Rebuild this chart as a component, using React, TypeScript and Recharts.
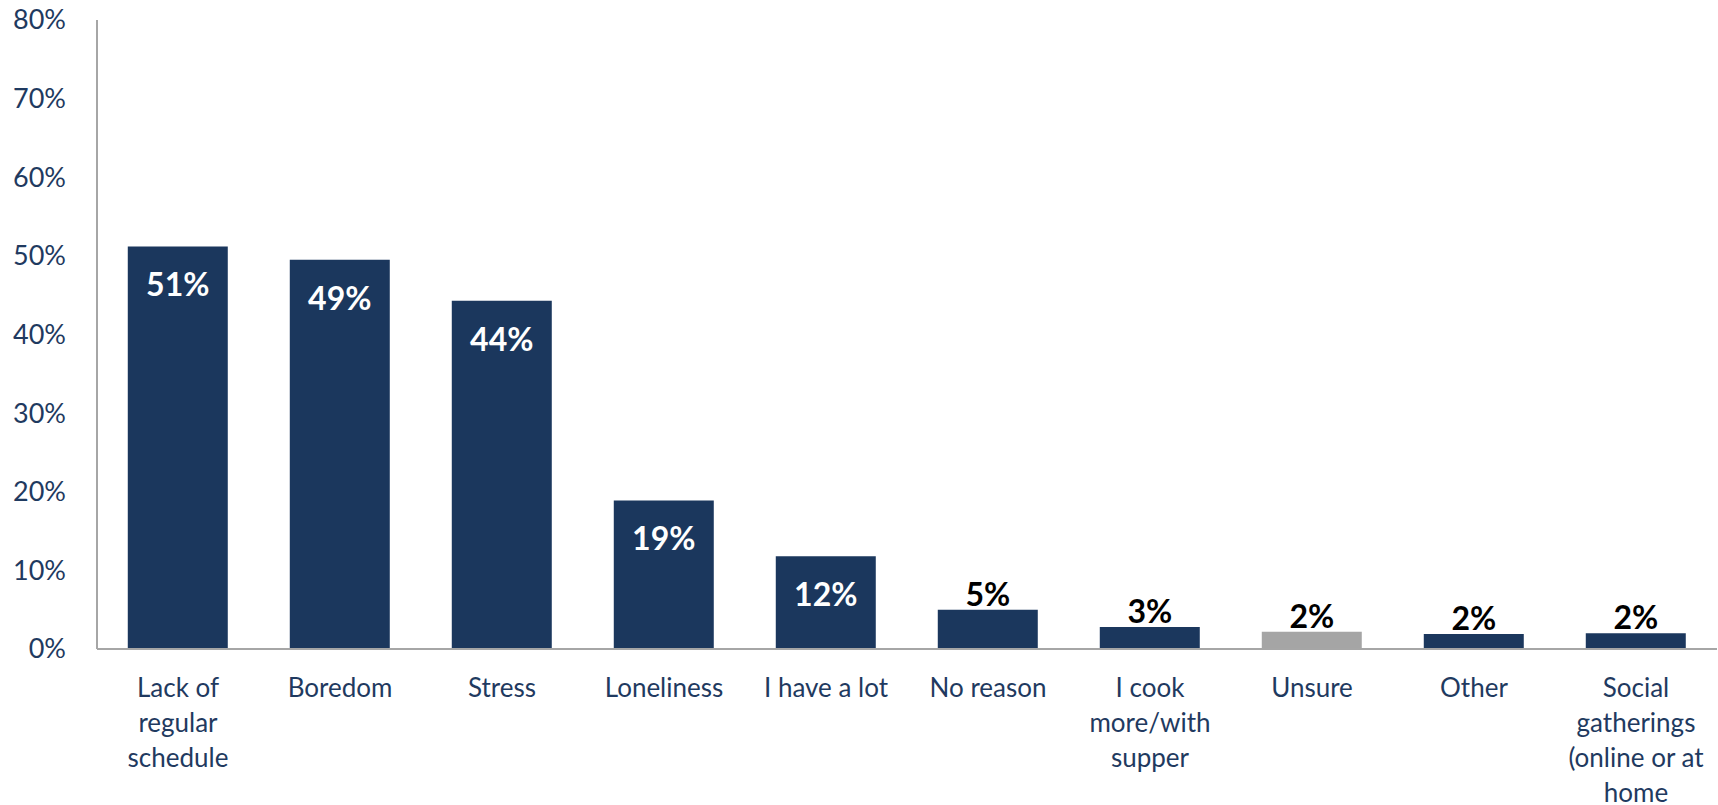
import { BarChart, Bar, XAxis, YAxis, Cell, LabelList } from 'recharts'

const categories = [
    'Lack of\nregular\nschedule',
    'Boredom',
    'Stress',
    'Loneliness',
    'I have a lot',
    'No reason',
    'I cook\nmore/with\nsupper',
    'Unsure',
    'Other',
    'Social\ngatherings\n(online or at\nhome',
]
const shares = [51.2, 49.5, 44.3, 18.9, 11.8, 5.0, 2.8, 2.2, 1.9, 2.0]
const shareLabels = ['51%', '49%', '44%', '19%', '12%', '5%', '3%', '2%', '2%', '2%']
const yTicks = [0, 10, 20, 30, 40, 50, 60, 70, 80]

const NAVY = '#1b375d'
const GREY = '#a5a5a5'
const TEXT = '#1f3a60'
const FONT = 'Lato, "Open Sans", sans-serif'

const data = categories.map((name, i) => ({ name, share: shares[i], label: shareLabels[i] }))

function XTick({ x, y, payload }: any) {
    const lines = String(payload.value).split('\n')
    return (
        <text x={x} y={y} textAnchor="middle" fill={TEXT} fontSize={26} fontFamily={FONT}>
            {lines.map((l, i) => (
                <tspan key={i} x={x} y={y + 40 + i * 35}>{l}</tspan>
            ))}
        </text>
    )
}

function YTick({ y, payload }: any) {
    return (
        <text x={66} y={y} dy="0.35em" textAnchor="end" fill={TEXT} fontSize={27} fontFamily={FONT}>
            {payload.value}%
        </text>
    )
}

function BarLabel({ x, y, width, index }: any) {
    const big = shares[index] > 10
    return (
        <text
            x={x + width / 2}
            y={big ? y + 50 : y - 4}
            textAnchor="middle"
            fill={big ? '#ffffff' : '#000000'}
            fontSize={32}
            fontWeight={700}
            fontFamily={FONT}
        >
            {shareLabels[index]}
        </text>
    )
}

export default function App() {
    return (
        <div style={{ position: 'absolute', left: 0, top: 0, background: '#fff' }}>
            <BarChart
                width={1718}
                height={805}
                data={data}
                margin={{ top: 20, right: 1, left: 0, bottom: 0 }}
                barCategoryGap="19%"
            >
                <XAxis
                    dataKey="name"
                    height={156}
                    interval={0}
                    tickLine={false}
                    axisLine={{ stroke: '#a6a6a6', strokeWidth: 2 }}
                    tick={<XTick />}
                />
                <YAxis
                    width={97}
                    domain={[0, 80]}
                    ticks={yTicks}
                    interval={0}
                    tickLine={false}
                    axisLine={{ stroke: '#a6a6a6', strokeWidth: 2 }}
                    tick={<YTick />}
                />
                <Bar dataKey="share" isAnimationActive={false}>
                    {data.map((d, i) => (
                        <Cell key={i} fill={d.name === 'Unsure' ? GREY : NAVY} />
                    ))}
                    <LabelList dataKey="label" content={<BarLabel />} />
                </Bar>
            </BarChart>
        </div>
    )
}
